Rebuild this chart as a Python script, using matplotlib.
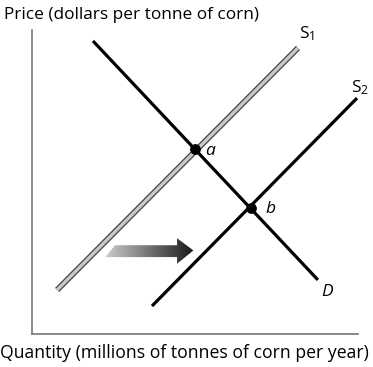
import matplotlib
matplotlib.use('Agg')
import matplotlib.pyplot as plt
from matplotlib.patches import Polygon
import numpy as np

plt.rcParams['font.family'] = ['Open Sans', 'DejaVu Sans']
plt.rcParams['mathtext.fontset'] = 'custom'
plt.rcParams['mathtext.rm'] = 'Open Sans'

# curve end points (data units, axes run 0..10)
demand_x = [1.87, 8.77]
demand_y = [9.64, 1.78]
s1_x = [0.77, 8.16]
s1_y = [1.45, 9.41]
s2_x = [3.68, 9.97]
s2_y = [0.92, 7.76]
# equilibrium points
eq_names = ['a', 'b']
eq_x = [5.0, 6.72]
eq_y = [6.07, 4.15]

fig = plt.figure(figsize=(3.73, 3.67), dpi=100)
ax = fig.add_axes([32/373, 33/367, 326/373, 304/367])
ax.set_xlim(0, 10)
ax.set_ylim(0, 10)
for side in ['top', 'right']:
    ax.spines[side].set_visible(False)
for side in ['left', 'bottom']:
    ax.spines[side].set_color('#777777')
    ax.spines[side].set_linewidth(1.2)
ax.set_xticks([])
ax.set_yticks([])

# S1: grey line with dark outline
ax.plot(s1_x, s1_y, color='#444444', lw=4.2, solid_capstyle='butt')
ax.plot(s1_x, s1_y, color='#c8c8c8', lw=2.4, solid_capstyle='butt')
ax.plot(demand_x, demand_y, color='black', lw=2.3, solid_capstyle='butt')
ax.plot(s2_x, s2_y, color='black', lw=2.3, solid_capstyle='butt')
ax.scatter(eq_x, eq_y, s=45, color='black', zorder=5)

ax.text(eq_x[0] + 0.3, eq_y[0] - 0.05, eq_names[0], fontsize=12.5, style='italic', va='center')
ax.text(eq_x[1] + 0.45, eq_y[1] - 0.05, eq_names[1], fontsize=12.5, style='italic', va='center')
ax.text(s1_x[1] + 0.02, s1_y[1] + 0.15, r'$\mathregular{S_1}$', fontsize=12.5, ha='left', va='bottom')
ax.text(s2_x[1] - 0.2, s2_y[1] + 0.05, r'$\mathregular{S_2}$', fontsize=12.5, ha='left', va='bottom')
ax.text(demand_x[1] + 0.1, demand_y[1] - 0.4, 'D', fontsize=12.5, style='italic', va='center')

# shift arrow with gradient fill
arrow = np.array([[2.55, 2.92], [4.45, 2.92], [4.45, 3.15], [4.95, 2.75],
                  [4.45, 2.31], [4.45, 2.53], [2.25, 2.53]])
poly = Polygon(arrow, closed=True, facecolor='none', edgecolor='none')
ax.add_patch(poly)
grad = np.linspace(0.8, 0.1, 256).reshape(1, -1)
im = ax.imshow(grad, cmap='gray', vmin=0, vmax=1, aspect='auto',
               extent=[2.25, 4.95, 2.31, 3.15], zorder=4)
im.set_clip_path(poly)
ax.set_xlim(0, 10)
ax.set_ylim(0, 10)

fig.text(4/373, 1 - 15/367, 'Price (dollars per tonne of corn)', fontsize=12.4, va='center')
fig.text(0, 1 - 353/367, 'Quantity (millions of tonnes of corn per year)', fontsize=12.7, va='center')

plt.savefig('out.png', dpi=100)
